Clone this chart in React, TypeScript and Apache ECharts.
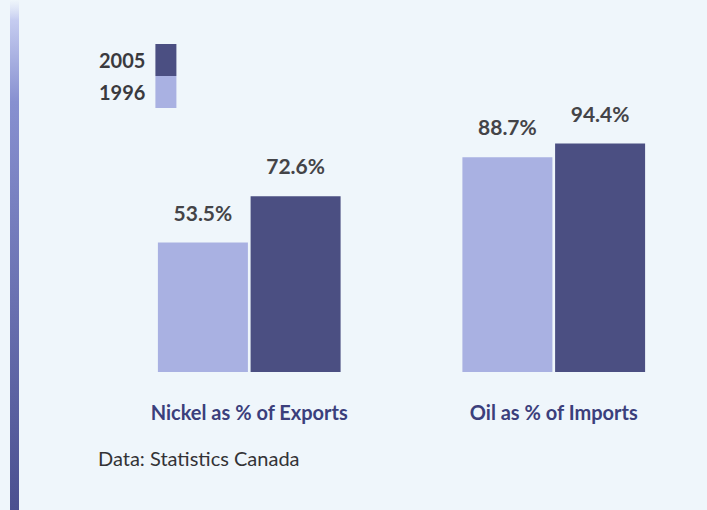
import React, { useEffect, useRef } from "react";
import * as echarts from "echarts";

const categories = ["Nickel as % of Exports", "Oil as % of Imports"];
const seriesNames = ["1996", "2005"];
const values1996 = [53.5, 88.7];
const values2005 = [72.6, 94.4];
const sourceNote = "Data: Statistics Canada";

const LIGHT = "#a9b1e2";
const DARK = "#4b4f82";
const BG = "#eff6fb";

export default function App() {
  const ref = useRef<HTMLDivElement>(null);
  useEffect(() => {
    if (!ref.current) return;
    const chart = echarts.init(ref.current, null, { renderer: "svg" });
    const labelStyle = {
      show: true,
      position: "top",
      distance: 20,
      formatter: (p: any) => p.value.toFixed(1) + "%",
      fontFamily: "Lato",
      fontWeight: "bold",
      fontSize: 21,
      color: "#444448",
    };
    chart.setOption({
      animation: false,
      backgroundColor: BG,
      grid: { left: 97, width: 609, top: 130, height: 242 },
      legend: {
        data: ["2005", "1996"],
        orient: "vertical",
        left: 99,
        top: 44,
        padding: 0,
        itemGap: 0,
        itemWidth: 21,
        itemHeight: 32,
        align: "right",
        icon: "rect",
        textStyle: {
          fontFamily: "Lato",
          fontWeight: "bold",
          fontSize: 20,
          color: "#3a3a3e",
          padding: [0, 5, 0, 0],
        },
        selectedMode: false,
      },
      xAxis: {
        type: "category",
        data: categories,
        axisLine: { show: false },
        axisTick: { show: false },
        axisLabel: {
          margin: 30,
          fontFamily: "Lato",
          fontWeight: "bold",
          fontSize: 20,
          color: "#3b3f7c",
        },
      },
      yAxis: {
        type: "value",
        min: 0,
        max: 100,
        show: false,
        splitLine: { show: false },
      },
      series: [
        {
          name: seriesNames[0],
          type: "bar",
          data: values1996,
          barWidth: 90,
          barGap: "3%",
          itemStyle: { color: LIGHT },
          label: labelStyle,
        },
        {
          name: seriesNames[1],
          type: "bar",
          data: values2005,
          barWidth: 90,
          barGap: "3%",
          itemStyle: { color: DARK },
          label: labelStyle,
        },
      ],
      graphic: [
        {
          type: "rect",
          shape: { x: 10, y: 0, width: 9, height: 510 },
          style: {
            fill: new echarts.graphic.LinearGradient(0, 0, 0, 1, [
              { offset: 0, color: "rgba(205,212,242,0)" },
              { offset: 0.04, color: "#c5ccf0" },
              { offset: 0.2, color: "#8790d0" },
              { offset: 1, color: "#4b5090" },
            ]),
          },
          silent: true,
        },
        {
          type: "text",
          left: 98,
          top: 448,
          style: {
            text: sourceNote,
            fontFamily: "Lato",
            fontSize: 20,
            fill: "#333336",
          },
        },
      ],
    });
    return () => chart.dispose();
  }, []);
  return (
    <div
      ref={ref}
      style={{ position: "fixed", left: 0, top: 0, width: 707, height: 510 }}
    />
  );
}
